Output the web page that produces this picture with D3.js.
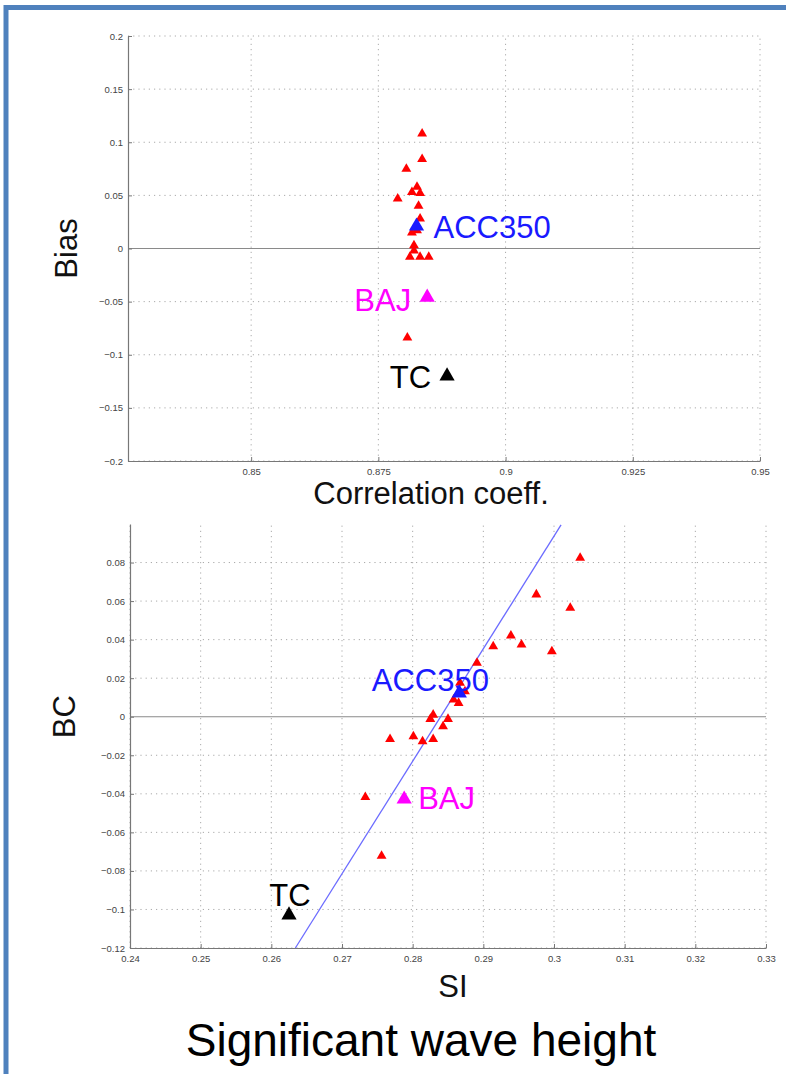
<!DOCTYPE html>
<html>
<head>
<meta charset="utf-8">
<style>
  body { margin: 0; background: #fff; }
  text { font-family: "Liberation Sans", Arial, sans-serif; }
</style>
</head>
<body>
<div id="chart"></div>
<script src="https://d3js.org/d3.v7.min.js"></script>
<script>

// top panel: correlation coefficient vs bias
let top_x_ticks = [0.85, 0.875, 0.9, 0.925, 0.95];
let top_y_ticks = [0.2, 0.15, 0.1, 0.05, 0, -0.05, -0.1, -0.15, -0.2];
let top_corr = [0.8836, 0.8836, 0.8805, 0.8826, 0.8816, 0.8832, 0.8788, 0.8829, 0.8832, 0.8816,
                0.8826, 0.8820, 0.8820, 0.8812, 0.8832, 0.8849, 0.8807];
let top_bias = [0.108, 0.084, 0.075, 0.058, 0.053, 0.052, 0.047, 0.040, 0.028, 0.015,
                0.017, 0.003, -0.002, -0.008, -0.008, -0.008, -0.084];

// bottom panel: scatter index vs bias correction
let bot_x_ticks = [0.24, 0.25, 0.26, 0.27, 0.28, 0.29, 0.3, 0.31, 0.32, 0.33];
let bot_y_ticks = [0.08, 0.06, 0.04, 0.02, 0, -0.02, -0.04, -0.06, -0.08, -0.1, -0.12];
let bot_si = [0.3037, 0.2975, 0.3023, 0.2939, 0.2954, 0.2914, 0.2997, 0.2891, 0.2867, 0.2874,
              0.2858, 0.2865, 0.2829, 0.2825, 0.2850, 0.2843, 0.2768, 0.2801, 0.2814, 0.2829,
              0.2733, 0.2756];
let bot_bc = [0.0824, 0.0634, 0.0565, 0.0421, 0.0374, 0.0365, 0.0339, 0.0279, 0.0175, 0.0131,
              0.0088, 0.0071, 0.0010, -0.0012, -0.0012, -0.0050, -0.0116, -0.0102, -0.0128, -0.0116,
              -0.0417, -0.0722];
// fitted line end points (SI, BC)
let fit_si = [0.2634, 0.3010];
let fit_bc = [-0.12, 0.0995];

// named runs, highlighted
let run_names = ["ACC350", "BAJ", "TC"];
let run_colors = ["#1a1aff", "#ff00ff", "#000000"];
let run_corr = [0.8825, 0.8846, 0.8885];
let run_bias = [0.021, -0.046, -0.120];
let run_si = [0.2866, 0.2788, 0.2625];
let run_bc = [0.0123, -0.0428, -0.1029];

let W = 786, H = 1074;
let svg = d3.select("#chart").append("svg")
  .attr("width", W).attr("height", H)
  .style("display", "block");

svg.append("rect").attr("width", W).attr("height", H).attr("fill", "#fff");

// slide frame
svg.append("path")
  .attr("d", "M6,1074 V7.5 H786")
  .attr("fill", "none")
  .attr("stroke", "#4f81bd")
  .attr("stroke-width", 5);

function panel(opts) {
  let x = d3.scaleLinear().domain(opts.xdom).range(opts.xr);
  let y = d3.scaleLinear().domain(opts.ydom).range(opts.yr);
  let g = svg.append("g");

  // dotted grid
  g.selectAll(".vg").data(opts.xticks).enter().append("line")
    .attr("x1", d => x(d)).attr("x2", d => x(d))
    .attr("y1", opts.yr[0]).attr("y2", opts.yr[1])
    .attr("stroke", "#aaa").attr("stroke-width", 1)
    .attr("stroke-dasharray", "1.2,4");
  g.selectAll(".hg").data(opts.yticks.filter(d => d !== 0)).enter().append("line")
    .attr("x1", opts.xr[0]).attr("x2", opts.xr[1])
    .attr("y1", d => y(d)).attr("y2", d => y(d))
    .attr("stroke", "#aaa").attr("stroke-width", 1)
    .attr("stroke-dasharray", "1.2,4");

  // zero line
  g.append("line")
    .attr("x1", opts.xr[0]).attr("x2", opts.xr[1])
    .attr("y1", y(0)).attr("y2", y(0))
    .attr("stroke", "#8a8a8a").attr("stroke-width", 1.2);

  // axes
  let xa = g.append("g")
    .attr("transform", "translate(0," + opts.yr[0] + ")")
    .call(d3.axisBottom(x).tickValues(opts.xticks).tickSizeInner(-4).tickSizeOuter(0)
      .tickFormat(d => String(d)));
  let ya = g.append("g")
    .attr("transform", "translate(" + opts.xr[0] + ",0)")
    .call(d3.axisLeft(y).tickValues(opts.yticks).tickSizeInner(-4).tickSizeOuter(0)
      .tickFormat(d => d < 0 ? "\u2212" + String(-d) : String(d)));
  [xa, ya].forEach(a => {
    a.select(".domain").attr("stroke", "#777").attr("stroke-width", 1.2);
    a.selectAll(".tick line").attr("stroke", "#777");
    a.selectAll(".tick text").attr("fill", "#444")
      .style("font-size", "9.5px").style("font-family", "Liberation Sans, Arial, sans-serif");
  });
  xa.selectAll(".tick text").attr("y", 7);
  ya.selectAll(".tick text").attr("x", -5);

  // axis titles
  g.append("text")
    .attr("x", opts.xlabX).attr("y", opts.xlabY)
    .attr("text-anchor", "middle").attr("font-size", 31).attr("fill", "#111")
    .text(opts.xlab);
  g.append("text")
    .attr("transform", "translate(" + opts.ylabX + "," + y(0) + ") rotate(-90)")
    .attr("text-anchor", "middle").attr("font-size", 31).attr("fill", "#111")
    .text(opts.ylab);

  return {g: g, x: x, y: y};
}

let tri_small = d3.symbol().type(d3.symbolTriangle).size(42);
let tri_big = d3.symbol().type(d3.symbolTriangle).size(100);

function runs(P, xs, ys, offs) {
  run_names.forEach((n, i) => {
    let px = P.x(xs[i]), py = P.y(ys[i]);
    P.g.append("path").attr("d", tri_big)
      .attr("transform", "translate(" + px + "," + py + ")")
      .attr("fill", run_colors[i]);
    P.g.append("text")
      .attr("x", px + offs[i].dx).attr("y", py + offs[i].dy)
      .attr("text-anchor", offs[i].anchor)
      .attr("font-size", 31).attr("fill", run_colors[i])
      .text(n);
  });
}

// ---------- top panel ----------
let P1 = panel({
  xdom: [0.8258, 0.95], xr: [128, 760],
  ydom: [-0.2, 0.2], yr: [461, 36],
  xticks: top_x_ticks, yticks: top_y_ticks,
  xlab: "Correlation coeff.", xlabX: 431, xlabY: 504,
  ylab: "Bias", ylabX: 77
});

P1.g.selectAll(".pt").data(top_corr).enter().append("path")
  .attr("d", tri_small)
  .attr("transform", (d, i) => "translate(" + P1.x(d) + "," + P1.y(top_bias[i]) + ")")
  .attr("fill", "#ff0000");

runs(P1, run_corr, run_bias, [
  {dx: 17, dy: 12, anchor: "start"},
  {dx: -16, dy: 14, anchor: "end"},
  {dx: -16, dy: 12, anchor: "end"}
]);

// ---------- bottom panel ----------
let P2 = panel({
  xdom: [0.24, 0.33], xr: [130, 766],
  ydom: [-0.12, 0.1], yr: [948, 524],
  xticks: bot_x_ticks, yticks: bot_y_ticks,
  xlab: "SI", xlabX: 453, xlabY: 997,
  ylab: "BC", ylabX: 75
});

P2.g.append("line")
  .attr("x1", P2.x(fit_si[0])).attr("y1", P2.y(fit_bc[0]))
  .attr("x2", P2.x(fit_si[1])).attr("y2", P2.y(fit_bc[1]))
  .attr("stroke", "#6b6bff").attr("stroke-width", 1.3);

P2.g.selectAll(".pt").data(bot_si).enter().append("path")
  .attr("d", tri_small)
  .attr("transform", (d, i) => "translate(" + P2.x(d) + "," + P2.y(bot_bc[i]) + ")")
  .attr("fill", "#ff0000");

runs(P2, run_si, run_bc, [
  {dx: -29, dy: -2, anchor: "middle"},
  {dx: 14, dy: 10, anchor: "start"},
  {dx: 1, dy: -9, anchor: "middle"}
]);

// slide caption
svg.append("text")
  .attr("x", 421).attr("y", 1056)
  .attr("text-anchor", "middle").attr("font-size", 46).attr("fill", "#000")
  .text("Significant wave height");

</script>
</body>
</html>
